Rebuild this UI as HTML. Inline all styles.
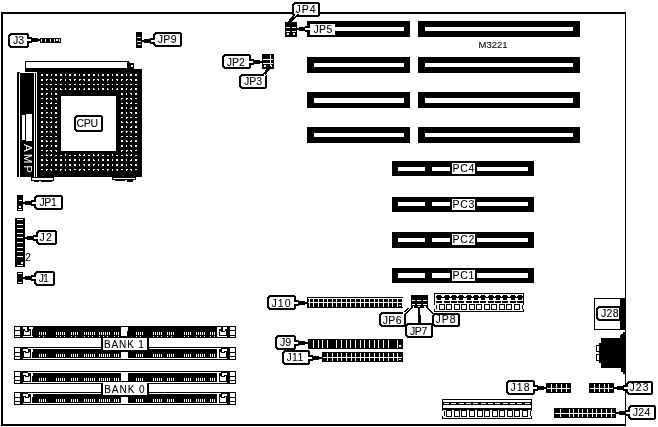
<!DOCTYPE html>
<html><head><meta charset="utf-8"><style>
html,body{margin:0;padding:0;background:#fff;}
body{width:658px;height:427px;overflow:hidden;}
svg{display:block;filter:grayscale(1);font-family:"Liberation Sans",sans-serif;}
</style></head><body>
<svg width="658" height="427" viewBox="0 0 658 427" shape-rendering="crispEdges">
<rect x="1" y="12" width="625" height="2" fill="#000"/>
<rect x="1" y="12" width="2" height="414" fill="#000"/>
<rect x="625" y="12" width="1" height="414" fill="#000"/>
<rect x="1" y="424" width="625" height="2" fill="#000"/>
<rect x="40" y="38" width="21" height="5" fill="#000"/>
<rect x="41" y="39" width="1" height="3" fill="#fff"/>
<rect x="45" y="39" width="1" height="3" fill="#fff"/>
<rect x="50" y="39" width="1" height="3" fill="#fff"/>
<rect x="54" y="39" width="1" height="3" fill="#fff"/>
<rect x="59" y="39" width="1" height="3" fill="#fff"/>
<rect x="56" y="39" width="2" height="2" fill="#fff"/>
<polygon points="10,33 27,33 29,35 29,46 27,48 10,48 8,46 8,35" fill="#000"/>
<polygon points="11,35 26,35 27,36 27,45 26,46 11,46 10,45 10,36" fill="#fff"/>
<text x="18.5" y="44.0" font-size="10.5" fill="#000" stroke="#000" stroke-width="0.08" text-anchor="middle" >J3</text>
<rect x="28" y="37" width="4" height="6" fill="#000"/>
<rect x="32" y="38" width="6" height="4" fill="#000"/>
<rect x="38" y="39" width="2" height="2" fill="#000"/>
<rect x="26" y="39" width="5" height="2" fill="#fff"/>
<rect x="136" y="32" width="6" height="16" fill="#000"/>
<rect x="137" y="37" width="4" height="1" fill="#fff"/>
<rect x="137" y="41" width="4" height="1" fill="#fff"/>
<rect x="138" y="44" width="3" height="1" fill="#fff"/>
<polygon points="155,32 180,32 182,34 182,45 180,47 155,47 153,45 153,34" fill="#000"/>
<polygon points="156,34 179,34 180,35 180,44 179,45 156,45 155,44 155,35" fill="#fff"/>
<text x="167.28" y="43.0" font-size="10.5" fill="#000" stroke="#000" stroke-width="0.08" text-anchor="middle" letter-spacing="0.35">JP9</text>
<rect x="150" y="38" width="4" height="6" fill="#000"/>
<rect x="144" y="39" width="6" height="4" fill="#000"/>
<rect x="142" y="40" width="2" height="2" fill="#000"/>
<rect x="151" y="40" width="5" height="2" fill="#fff"/>
<rect x="25" y="61" width="104" height="7" fill="#000"/>
<rect x="26" y="62" width="101" height="6" fill="#fff"/>
<rect x="129" y="62" width="1" height="1" fill="#000"/>
<rect x="129" y="63" width="5" height="6" fill="#000"/>
<rect x="131" y="65" width="2" height="2" fill="#fff"/>
<rect x="25" y="68" width="109" height="5" fill="#000"/>
<rect x="134" y="69" width="8" height="4" fill="#000"/>
<rect x="37" y="69" width="105" height="108" fill="#000"/>
<rect x="17" y="72" width="20" height="105" fill="#000"/>
<rect x="19" y="73" width="1" height="104" fill="#fff"/>
<rect x="34" y="73" width="1" height="104" fill="#fff"/>
<rect x="36" y="73" width="1" height="104" fill="#fff"/>
<rect x="20" y="72" width="17" height="1" fill="#fff"/>
<rect x="22" y="115" width="3" height="25" fill="#fff"/>
<rect x="26" y="114" width="6" height="27" fill="#fff"/>
<text transform="translate(23.5,144) rotate(90)" font-size="11.5" fill="#fff" letter-spacing="2.0">AMP</text>
<rect x="41" y="74" width="2" height="1" fill="#fff"/>
<rect x="41" y="75" width="2" height="1" fill="#fff"/>
<rect x="46" y="74" width="2" height="1" fill="#fff"/>
<rect x="46" y="75" width="2" height="1" fill="#fff"/>
<rect x="51" y="74" width="1" height="1" fill="#fff"/>
<rect x="51" y="75" width="1" height="1" fill="#fff"/>
<rect x="55" y="74" width="2" height="1" fill="#fff"/>
<rect x="55" y="75" width="2" height="1" fill="#fff"/>
<rect x="60" y="74" width="2" height="1" fill="#fff"/>
<rect x="60" y="75" width="2" height="1" fill="#fff"/>
<rect x="65" y="74" width="1" height="1" fill="#fff"/>
<rect x="65" y="75" width="1" height="1" fill="#fff"/>
<rect x="69" y="74" width="2" height="1" fill="#fff"/>
<rect x="69" y="75" width="2" height="1" fill="#fff"/>
<rect x="74" y="74" width="2" height="1" fill="#fff"/>
<rect x="74" y="75" width="2" height="1" fill="#fff"/>
<rect x="79" y="74" width="1" height="1" fill="#fff"/>
<rect x="79" y="75" width="1" height="1" fill="#fff"/>
<rect x="83" y="74" width="2" height="1" fill="#fff"/>
<rect x="83" y="75" width="2" height="1" fill="#fff"/>
<rect x="88" y="74" width="2" height="1" fill="#fff"/>
<rect x="88" y="75" width="2" height="1" fill="#fff"/>
<rect x="93" y="74" width="2" height="1" fill="#fff"/>
<rect x="93" y="75" width="2" height="1" fill="#fff"/>
<rect x="98" y="74" width="1" height="1" fill="#fff"/>
<rect x="98" y="75" width="1" height="1" fill="#fff"/>
<rect x="102" y="74" width="2" height="1" fill="#fff"/>
<rect x="102" y="75" width="2" height="1" fill="#fff"/>
<rect x="107" y="74" width="2" height="1" fill="#fff"/>
<rect x="107" y="75" width="2" height="1" fill="#fff"/>
<rect x="112" y="74" width="1" height="1" fill="#fff"/>
<rect x="112" y="75" width="1" height="1" fill="#fff"/>
<rect x="116" y="74" width="2" height="1" fill="#fff"/>
<rect x="116" y="75" width="2" height="1" fill="#fff"/>
<rect x="121" y="74" width="2" height="1" fill="#fff"/>
<rect x="121" y="75" width="2" height="1" fill="#fff"/>
<rect x="126" y="74" width="1" height="1" fill="#fff"/>
<rect x="126" y="75" width="1" height="1" fill="#fff"/>
<rect x="130" y="74" width="2" height="1" fill="#fff"/>
<rect x="130" y="75" width="2" height="1" fill="#fff"/>
<rect x="135" y="74" width="2" height="1" fill="#fff"/>
<rect x="135" y="75" width="2" height="1" fill="#fff"/>
<rect x="41" y="79" width="2" height="1" fill="#fff"/>
<rect x="41" y="80" width="2" height="1" fill="#fff"/>
<rect x="46" y="79" width="2" height="1" fill="#fff"/>
<rect x="46" y="80" width="1" height="1" fill="#fff"/>
<rect x="50" y="79" width="2" height="1" fill="#fff"/>
<rect x="51" y="80" width="1" height="1" fill="#fff"/>
<rect x="55" y="79" width="2" height="1" fill="#fff"/>
<rect x="56" y="80" width="1" height="1" fill="#fff"/>
<rect x="60" y="79" width="2" height="1" fill="#fff"/>
<rect x="60" y="80" width="1" height="1" fill="#fff"/>
<rect x="65" y="79" width="1" height="1" fill="#fff"/>
<rect x="65" y="80" width="1" height="1" fill="#fff"/>
<rect x="69" y="79" width="2" height="1" fill="#fff"/>
<rect x="70" y="80" width="1" height="1" fill="#fff"/>
<rect x="74" y="79" width="2" height="1" fill="#fff"/>
<rect x="74" y="80" width="1" height="1" fill="#fff"/>
<rect x="79" y="79" width="2" height="1" fill="#fff"/>
<rect x="79" y="80" width="1" height="1" fill="#fff"/>
<rect x="83" y="79" width="2" height="1" fill="#fff"/>
<rect x="84" y="80" width="1" height="1" fill="#fff"/>
<rect x="88" y="79" width="2" height="1" fill="#fff"/>
<rect x="88" y="80" width="2" height="1" fill="#fff"/>
<rect x="93" y="79" width="2" height="1" fill="#fff"/>
<rect x="93" y="80" width="1" height="1" fill="#fff"/>
<rect x="97" y="79" width="2" height="1" fill="#fff"/>
<rect x="98" y="80" width="1" height="1" fill="#fff"/>
<rect x="102" y="79" width="2" height="1" fill="#fff"/>
<rect x="103" y="80" width="1" height="1" fill="#fff"/>
<rect x="107" y="79" width="2" height="1" fill="#fff"/>
<rect x="107" y="80" width="1" height="1" fill="#fff"/>
<rect x="112" y="79" width="1" height="1" fill="#fff"/>
<rect x="112" y="80" width="1" height="1" fill="#fff"/>
<rect x="116" y="79" width="2" height="1" fill="#fff"/>
<rect x="117" y="80" width="1" height="1" fill="#fff"/>
<rect x="121" y="79" width="2" height="1" fill="#fff"/>
<rect x="121" y="80" width="1" height="1" fill="#fff"/>
<rect x="126" y="79" width="2" height="1" fill="#fff"/>
<rect x="126" y="80" width="1" height="1" fill="#fff"/>
<rect x="130" y="79" width="2" height="1" fill="#fff"/>
<rect x="131" y="80" width="1" height="1" fill="#fff"/>
<rect x="135" y="79" width="2" height="1" fill="#fff"/>
<rect x="135" y="80" width="2" height="1" fill="#fff"/>
<rect x="41" y="84" width="2" height="1" fill="#fff"/>
<rect x="46" y="84" width="2" height="1" fill="#fff"/>
<rect x="50" y="84" width="2" height="1" fill="#fff"/>
<rect x="55" y="84" width="2" height="1" fill="#fff"/>
<rect x="60" y="84" width="2" height="1" fill="#fff"/>
<rect x="65" y="84" width="1" height="1" fill="#fff"/>
<rect x="69" y="84" width="2" height="1" fill="#fff"/>
<rect x="74" y="84" width="2" height="1" fill="#fff"/>
<rect x="79" y="84" width="2" height="1" fill="#fff"/>
<rect x="83" y="84" width="2" height="1" fill="#fff"/>
<rect x="88" y="84" width="2" height="1" fill="#fff"/>
<rect x="93" y="84" width="2" height="1" fill="#fff"/>
<rect x="97" y="84" width="2" height="1" fill="#fff"/>
<rect x="102" y="84" width="2" height="1" fill="#fff"/>
<rect x="107" y="84" width="2" height="1" fill="#fff"/>
<rect x="112" y="84" width="1" height="1" fill="#fff"/>
<rect x="116" y="84" width="2" height="1" fill="#fff"/>
<rect x="121" y="84" width="2" height="1" fill="#fff"/>
<rect x="126" y="84" width="2" height="1" fill="#fff"/>
<rect x="130" y="84" width="2" height="1" fill="#fff"/>
<rect x="135" y="84" width="2" height="1" fill="#fff"/>
<rect x="41" y="88" width="2" height="1" fill="#fff"/>
<rect x="41" y="89" width="2" height="1" fill="#fff"/>
<rect x="46" y="88" width="1" height="1" fill="#fff"/>
<rect x="46" y="89" width="2" height="1" fill="#fff"/>
<rect x="51" y="88" width="1" height="1" fill="#fff"/>
<rect x="51" y="89" width="1" height="1" fill="#fff"/>
<rect x="55" y="88" width="2" height="1" fill="#fff"/>
<rect x="55" y="89" width="2" height="1" fill="#fff"/>
<rect x="60" y="88" width="1" height="1" fill="#fff"/>
<rect x="60" y="89" width="2" height="1" fill="#fff"/>
<rect x="65" y="88" width="1" height="1" fill="#fff"/>
<rect x="65" y="89" width="1" height="1" fill="#fff"/>
<rect x="70" y="88" width="1" height="1" fill="#fff"/>
<rect x="69" y="89" width="2" height="1" fill="#fff"/>
<rect x="74" y="88" width="2" height="1" fill="#fff"/>
<rect x="74" y="89" width="2" height="1" fill="#fff"/>
<rect x="79" y="88" width="1" height="1" fill="#fff"/>
<rect x="79" y="89" width="1" height="1" fill="#fff"/>
<rect x="84" y="88" width="1" height="1" fill="#fff"/>
<rect x="83" y="89" width="2" height="1" fill="#fff"/>
<rect x="88" y="88" width="2" height="1" fill="#fff"/>
<rect x="88" y="89" width="2" height="1" fill="#fff"/>
<rect x="93" y="88" width="1" height="1" fill="#fff"/>
<rect x="93" y="89" width="2" height="1" fill="#fff"/>
<rect x="98" y="88" width="1" height="1" fill="#fff"/>
<rect x="98" y="89" width="1" height="1" fill="#fff"/>
<rect x="102" y="88" width="2" height="1" fill="#fff"/>
<rect x="102" y="89" width="2" height="1" fill="#fff"/>
<rect x="107" y="88" width="1" height="1" fill="#fff"/>
<rect x="107" y="89" width="2" height="1" fill="#fff"/>
<rect x="112" y="88" width="1" height="1" fill="#fff"/>
<rect x="112" y="89" width="1" height="1" fill="#fff"/>
<rect x="117" y="88" width="1" height="1" fill="#fff"/>
<rect x="116" y="89" width="2" height="1" fill="#fff"/>
<rect x="121" y="88" width="2" height="1" fill="#fff"/>
<rect x="121" y="89" width="2" height="1" fill="#fff"/>
<rect x="126" y="88" width="1" height="1" fill="#fff"/>
<rect x="126" y="89" width="1" height="1" fill="#fff"/>
<rect x="131" y="88" width="1" height="1" fill="#fff"/>
<rect x="130" y="89" width="2" height="1" fill="#fff"/>
<rect x="135" y="88" width="2" height="1" fill="#fff"/>
<rect x="135" y="89" width="2" height="1" fill="#fff"/>
<rect x="41" y="93" width="2" height="1" fill="#fff"/>
<rect x="41" y="94" width="2" height="1" fill="#fff"/>
<rect x="46" y="93" width="2" height="1" fill="#fff"/>
<rect x="46" y="94" width="1" height="1" fill="#fff"/>
<rect x="51" y="93" width="1" height="1" fill="#fff"/>
<rect x="51" y="94" width="1" height="1" fill="#fff"/>
<rect x="55" y="93" width="2" height="1" fill="#fff"/>
<rect x="55" y="94" width="2" height="1" fill="#fff"/>
<rect x="121" y="93" width="2" height="1" fill="#fff"/>
<rect x="121" y="94" width="2" height="1" fill="#fff"/>
<rect x="126" y="93" width="1" height="1" fill="#fff"/>
<rect x="126" y="94" width="1" height="1" fill="#fff"/>
<rect x="130" y="93" width="2" height="1" fill="#fff"/>
<rect x="131" y="94" width="1" height="1" fill="#fff"/>
<rect x="135" y="93" width="2" height="1" fill="#fff"/>
<rect x="135" y="94" width="2" height="1" fill="#fff"/>
<rect x="41" y="98" width="2" height="1" fill="#fff"/>
<rect x="46" y="98" width="2" height="1" fill="#fff"/>
<rect x="46" y="99" width="1" height="1" fill="#fff"/>
<rect x="50" y="98" width="2" height="1" fill="#fff"/>
<rect x="51" y="99" width="1" height="1" fill="#fff"/>
<rect x="55" y="98" width="2" height="1" fill="#fff"/>
<rect x="56" y="99" width="1" height="1" fill="#fff"/>
<rect x="121" y="98" width="2" height="1" fill="#fff"/>
<rect x="121" y="99" width="1" height="1" fill="#fff"/>
<rect x="126" y="98" width="2" height="1" fill="#fff"/>
<rect x="126" y="99" width="1" height="1" fill="#fff"/>
<rect x="130" y="98" width="2" height="1" fill="#fff"/>
<rect x="131" y="99" width="1" height="1" fill="#fff"/>
<rect x="135" y="98" width="2" height="1" fill="#fff"/>
<rect x="41" y="103" width="2" height="1" fill="#fff"/>
<rect x="46" y="102" width="1" height="1" fill="#fff"/>
<rect x="46" y="103" width="2" height="1" fill="#fff"/>
<rect x="51" y="102" width="1" height="1" fill="#fff"/>
<rect x="50" y="103" width="2" height="1" fill="#fff"/>
<rect x="55" y="103" width="2" height="1" fill="#fff"/>
<rect x="121" y="103" width="2" height="1" fill="#fff"/>
<rect x="126" y="102" width="1" height="1" fill="#fff"/>
<rect x="126" y="103" width="2" height="1" fill="#fff"/>
<rect x="131" y="102" width="1" height="1" fill="#fff"/>
<rect x="130" y="103" width="2" height="1" fill="#fff"/>
<rect x="135" y="103" width="2" height="1" fill="#fff"/>
<rect x="41" y="107" width="2" height="1" fill="#fff"/>
<rect x="41" y="108" width="2" height="1" fill="#fff"/>
<rect x="46" y="107" width="1" height="1" fill="#fff"/>
<rect x="46" y="108" width="2" height="1" fill="#fff"/>
<rect x="51" y="107" width="1" height="1" fill="#fff"/>
<rect x="51" y="108" width="1" height="1" fill="#fff"/>
<rect x="55" y="107" width="2" height="1" fill="#fff"/>
<rect x="55" y="108" width="2" height="1" fill="#fff"/>
<rect x="121" y="107" width="2" height="1" fill="#fff"/>
<rect x="121" y="108" width="2" height="1" fill="#fff"/>
<rect x="126" y="107" width="1" height="1" fill="#fff"/>
<rect x="126" y="108" width="1" height="1" fill="#fff"/>
<rect x="131" y="107" width="1" height="1" fill="#fff"/>
<rect x="130" y="108" width="2" height="1" fill="#fff"/>
<rect x="135" y="107" width="2" height="1" fill="#fff"/>
<rect x="135" y="108" width="2" height="1" fill="#fff"/>
<rect x="41" y="112" width="2" height="1" fill="#fff"/>
<rect x="41" y="113" width="2" height="1" fill="#fff"/>
<rect x="46" y="112" width="2" height="1" fill="#fff"/>
<rect x="46" y="113" width="1" height="1" fill="#fff"/>
<rect x="51" y="112" width="1" height="1" fill="#fff"/>
<rect x="51" y="113" width="1" height="1" fill="#fff"/>
<rect x="55" y="112" width="2" height="1" fill="#fff"/>
<rect x="55" y="113" width="2" height="1" fill="#fff"/>
<rect x="121" y="112" width="2" height="1" fill="#fff"/>
<rect x="121" y="113" width="2" height="1" fill="#fff"/>
<rect x="126" y="112" width="1" height="1" fill="#fff"/>
<rect x="126" y="113" width="1" height="1" fill="#fff"/>
<rect x="130" y="112" width="2" height="1" fill="#fff"/>
<rect x="131" y="113" width="1" height="1" fill="#fff"/>
<rect x="135" y="112" width="2" height="1" fill="#fff"/>
<rect x="135" y="113" width="2" height="1" fill="#fff"/>
<rect x="41" y="117" width="2" height="1" fill="#fff"/>
<rect x="46" y="117" width="2" height="1" fill="#fff"/>
<rect x="50" y="117" width="2" height="1" fill="#fff"/>
<rect x="51" y="118" width="1" height="1" fill="#fff"/>
<rect x="55" y="117" width="2" height="1" fill="#fff"/>
<rect x="121" y="117" width="2" height="1" fill="#fff"/>
<rect x="126" y="117" width="2" height="1" fill="#fff"/>
<rect x="126" y="118" width="1" height="1" fill="#fff"/>
<rect x="130" y="117" width="2" height="1" fill="#fff"/>
<rect x="135" y="117" width="2" height="1" fill="#fff"/>
<rect x="41" y="121" width="2" height="1" fill="#fff"/>
<rect x="41" y="122" width="2" height="1" fill="#fff"/>
<rect x="46" y="121" width="1" height="1" fill="#fff"/>
<rect x="46" y="122" width="2" height="1" fill="#fff"/>
<rect x="51" y="121" width="1" height="1" fill="#fff"/>
<rect x="50" y="122" width="2" height="1" fill="#fff"/>
<rect x="56" y="121" width="1" height="1" fill="#fff"/>
<rect x="55" y="122" width="2" height="1" fill="#fff"/>
<rect x="121" y="121" width="1" height="1" fill="#fff"/>
<rect x="121" y="122" width="2" height="1" fill="#fff"/>
<rect x="126" y="121" width="1" height="1" fill="#fff"/>
<rect x="126" y="122" width="2" height="1" fill="#fff"/>
<rect x="131" y="121" width="1" height="1" fill="#fff"/>
<rect x="130" y="122" width="2" height="1" fill="#fff"/>
<rect x="135" y="121" width="2" height="1" fill="#fff"/>
<rect x="135" y="122" width="2" height="1" fill="#fff"/>
<rect x="41" y="126" width="2" height="1" fill="#fff"/>
<rect x="41" y="127" width="2" height="1" fill="#fff"/>
<rect x="46" y="126" width="1" height="1" fill="#fff"/>
<rect x="46" y="127" width="2" height="1" fill="#fff"/>
<rect x="51" y="126" width="1" height="1" fill="#fff"/>
<rect x="51" y="127" width="1" height="1" fill="#fff"/>
<rect x="55" y="126" width="2" height="1" fill="#fff"/>
<rect x="55" y="127" width="2" height="1" fill="#fff"/>
<rect x="121" y="126" width="2" height="1" fill="#fff"/>
<rect x="121" y="127" width="2" height="1" fill="#fff"/>
<rect x="126" y="126" width="1" height="1" fill="#fff"/>
<rect x="126" y="127" width="1" height="1" fill="#fff"/>
<rect x="131" y="126" width="1" height="1" fill="#fff"/>
<rect x="130" y="127" width="2" height="1" fill="#fff"/>
<rect x="135" y="126" width="2" height="1" fill="#fff"/>
<rect x="135" y="127" width="2" height="1" fill="#fff"/>
<rect x="41" y="131" width="2" height="1" fill="#fff"/>
<rect x="41" y="132" width="2" height="1" fill="#fff"/>
<rect x="46" y="131" width="2" height="1" fill="#fff"/>
<rect x="46" y="132" width="1" height="1" fill="#fff"/>
<rect x="50" y="131" width="2" height="1" fill="#fff"/>
<rect x="51" y="132" width="1" height="1" fill="#fff"/>
<rect x="55" y="131" width="2" height="1" fill="#fff"/>
<rect x="56" y="132" width="1" height="1" fill="#fff"/>
<rect x="121" y="131" width="2" height="1" fill="#fff"/>
<rect x="121" y="132" width="1" height="1" fill="#fff"/>
<rect x="126" y="131" width="2" height="1" fill="#fff"/>
<rect x="126" y="132" width="1" height="1" fill="#fff"/>
<rect x="130" y="131" width="2" height="1" fill="#fff"/>
<rect x="131" y="132" width="1" height="1" fill="#fff"/>
<rect x="135" y="131" width="2" height="1" fill="#fff"/>
<rect x="135" y="132" width="2" height="1" fill="#fff"/>
<rect x="41" y="136" width="2" height="1" fill="#fff"/>
<rect x="46" y="136" width="2" height="1" fill="#fff"/>
<rect x="50" y="136" width="2" height="1" fill="#fff"/>
<rect x="55" y="136" width="2" height="1" fill="#fff"/>
<rect x="121" y="136" width="2" height="1" fill="#fff"/>
<rect x="126" y="136" width="2" height="1" fill="#fff"/>
<rect x="130" y="136" width="2" height="1" fill="#fff"/>
<rect x="135" y="136" width="2" height="1" fill="#fff"/>
<rect x="41" y="140" width="2" height="1" fill="#fff"/>
<rect x="41" y="141" width="2" height="1" fill="#fff"/>
<rect x="46" y="140" width="1" height="1" fill="#fff"/>
<rect x="46" y="141" width="2" height="1" fill="#fff"/>
<rect x="51" y="140" width="1" height="1" fill="#fff"/>
<rect x="50" y="141" width="2" height="1" fill="#fff"/>
<rect x="55" y="140" width="2" height="1" fill="#fff"/>
<rect x="55" y="141" width="2" height="1" fill="#fff"/>
<rect x="121" y="140" width="2" height="1" fill="#fff"/>
<rect x="121" y="141" width="2" height="1" fill="#fff"/>
<rect x="126" y="140" width="1" height="1" fill="#fff"/>
<rect x="126" y="141" width="2" height="1" fill="#fff"/>
<rect x="131" y="140" width="1" height="1" fill="#fff"/>
<rect x="130" y="141" width="2" height="1" fill="#fff"/>
<rect x="135" y="140" width="2" height="1" fill="#fff"/>
<rect x="135" y="141" width="2" height="1" fill="#fff"/>
<rect x="41" y="145" width="2" height="1" fill="#fff"/>
<rect x="41" y="146" width="2" height="1" fill="#fff"/>
<rect x="46" y="145" width="2" height="1" fill="#fff"/>
<rect x="46" y="146" width="1" height="1" fill="#fff"/>
<rect x="51" y="145" width="1" height="1" fill="#fff"/>
<rect x="51" y="146" width="1" height="1" fill="#fff"/>
<rect x="55" y="145" width="2" height="1" fill="#fff"/>
<rect x="55" y="146" width="2" height="1" fill="#fff"/>
<rect x="121" y="145" width="2" height="1" fill="#fff"/>
<rect x="121" y="146" width="2" height="1" fill="#fff"/>
<rect x="126" y="145" width="1" height="1" fill="#fff"/>
<rect x="126" y="146" width="1" height="1" fill="#fff"/>
<rect x="130" y="145" width="2" height="1" fill="#fff"/>
<rect x="131" y="146" width="1" height="1" fill="#fff"/>
<rect x="135" y="145" width="2" height="1" fill="#fff"/>
<rect x="135" y="146" width="2" height="1" fill="#fff"/>
<rect x="41" y="150" width="2" height="1" fill="#fff"/>
<rect x="46" y="150" width="2" height="1" fill="#fff"/>
<rect x="46" y="151" width="1" height="1" fill="#fff"/>
<rect x="50" y="150" width="2" height="1" fill="#fff"/>
<rect x="51" y="151" width="1" height="1" fill="#fff"/>
<rect x="55" y="150" width="2" height="1" fill="#fff"/>
<rect x="56" y="151" width="1" height="1" fill="#fff"/>
<rect x="121" y="150" width="2" height="1" fill="#fff"/>
<rect x="121" y="151" width="1" height="1" fill="#fff"/>
<rect x="126" y="150" width="2" height="1" fill="#fff"/>
<rect x="126" y="151" width="1" height="1" fill="#fff"/>
<rect x="130" y="150" width="2" height="1" fill="#fff"/>
<rect x="131" y="151" width="1" height="1" fill="#fff"/>
<rect x="135" y="150" width="2" height="1" fill="#fff"/>
<rect x="41" y="155" width="2" height="1" fill="#fff"/>
<rect x="46" y="154" width="1" height="1" fill="#fff"/>
<rect x="46" y="155" width="2" height="1" fill="#fff"/>
<rect x="51" y="154" width="1" height="1" fill="#fff"/>
<rect x="50" y="155" width="2" height="1" fill="#fff"/>
<rect x="55" y="155" width="2" height="1" fill="#fff"/>
<rect x="60" y="155" width="2" height="1" fill="#fff"/>
<rect x="65" y="154" width="1" height="1" fill="#fff"/>
<rect x="65" y="155" width="1" height="1" fill="#fff"/>
<rect x="69" y="155" width="2" height="1" fill="#fff"/>
<rect x="74" y="155" width="2" height="1" fill="#fff"/>
<rect x="79" y="154" width="1" height="1" fill="#fff"/>
<rect x="79" y="155" width="2" height="1" fill="#fff"/>
<rect x="84" y="154" width="1" height="1" fill="#fff"/>
<rect x="83" y="155" width="2" height="1" fill="#fff"/>
<rect x="88" y="155" width="2" height="1" fill="#fff"/>
<rect x="93" y="154" width="1" height="1" fill="#fff"/>
<rect x="93" y="155" width="2" height="1" fill="#fff"/>
<rect x="98" y="154" width="1" height="1" fill="#fff"/>
<rect x="97" y="155" width="2" height="1" fill="#fff"/>
<rect x="102" y="155" width="2" height="1" fill="#fff"/>
<rect x="107" y="155" width="2" height="1" fill="#fff"/>
<rect x="112" y="154" width="1" height="1" fill="#fff"/>
<rect x="112" y="155" width="1" height="1" fill="#fff"/>
<rect x="116" y="155" width="2" height="1" fill="#fff"/>
<rect x="121" y="155" width="2" height="1" fill="#fff"/>
<rect x="126" y="154" width="1" height="1" fill="#fff"/>
<rect x="126" y="155" width="2" height="1" fill="#fff"/>
<rect x="131" y="154" width="1" height="1" fill="#fff"/>
<rect x="130" y="155" width="2" height="1" fill="#fff"/>
<rect x="135" y="155" width="2" height="1" fill="#fff"/>
<rect x="41" y="159" width="2" height="1" fill="#fff"/>
<rect x="41" y="160" width="2" height="1" fill="#fff"/>
<rect x="46" y="159" width="1" height="1" fill="#fff"/>
<rect x="46" y="160" width="2" height="1" fill="#fff"/>
<rect x="51" y="159" width="1" height="1" fill="#fff"/>
<rect x="51" y="160" width="1" height="1" fill="#fff"/>
<rect x="55" y="159" width="2" height="1" fill="#fff"/>
<rect x="55" y="160" width="2" height="1" fill="#fff"/>
<rect x="60" y="159" width="2" height="1" fill="#fff"/>
<rect x="60" y="160" width="2" height="1" fill="#fff"/>
<rect x="65" y="159" width="1" height="1" fill="#fff"/>
<rect x="65" y="160" width="1" height="1" fill="#fff"/>
<rect x="69" y="159" width="2" height="1" fill="#fff"/>
<rect x="69" y="160" width="2" height="1" fill="#fff"/>
<rect x="74" y="159" width="2" height="1" fill="#fff"/>
<rect x="74" y="160" width="2" height="1" fill="#fff"/>
<rect x="79" y="159" width="1" height="1" fill="#fff"/>
<rect x="79" y="160" width="1" height="1" fill="#fff"/>
<rect x="84" y="159" width="1" height="1" fill="#fff"/>
<rect x="83" y="160" width="2" height="1" fill="#fff"/>
<rect x="88" y="159" width="2" height="1" fill="#fff"/>
<rect x="88" y="160" width="2" height="1" fill="#fff"/>
<rect x="93" y="159" width="1" height="1" fill="#fff"/>
<rect x="93" y="160" width="2" height="1" fill="#fff"/>
<rect x="98" y="159" width="1" height="1" fill="#fff"/>
<rect x="98" y="160" width="1" height="1" fill="#fff"/>
<rect x="102" y="159" width="2" height="1" fill="#fff"/>
<rect x="102" y="160" width="2" height="1" fill="#fff"/>
<rect x="107" y="159" width="2" height="1" fill="#fff"/>
<rect x="107" y="160" width="2" height="1" fill="#fff"/>
<rect x="112" y="159" width="1" height="1" fill="#fff"/>
<rect x="112" y="160" width="1" height="1" fill="#fff"/>
<rect x="116" y="159" width="2" height="1" fill="#fff"/>
<rect x="116" y="160" width="2" height="1" fill="#fff"/>
<rect x="121" y="159" width="2" height="1" fill="#fff"/>
<rect x="121" y="160" width="2" height="1" fill="#fff"/>
<rect x="126" y="159" width="1" height="1" fill="#fff"/>
<rect x="126" y="160" width="1" height="1" fill="#fff"/>
<rect x="131" y="159" width="1" height="1" fill="#fff"/>
<rect x="130" y="160" width="2" height="1" fill="#fff"/>
<rect x="135" y="159" width="2" height="1" fill="#fff"/>
<rect x="135" y="160" width="2" height="1" fill="#fff"/>
<rect x="41" y="164" width="2" height="1" fill="#fff"/>
<rect x="41" y="165" width="2" height="1" fill="#fff"/>
<rect x="46" y="164" width="2" height="1" fill="#fff"/>
<rect x="46" y="165" width="1" height="1" fill="#fff"/>
<rect x="51" y="164" width="1" height="1" fill="#fff"/>
<rect x="51" y="165" width="1" height="1" fill="#fff"/>
<rect x="55" y="164" width="2" height="1" fill="#fff"/>
<rect x="55" y="165" width="2" height="1" fill="#fff"/>
<rect x="60" y="164" width="2" height="1" fill="#fff"/>
<rect x="60" y="165" width="2" height="1" fill="#fff"/>
<rect x="65" y="164" width="1" height="1" fill="#fff"/>
<rect x="65" y="165" width="1" height="1" fill="#fff"/>
<rect x="69" y="164" width="2" height="1" fill="#fff"/>
<rect x="69" y="165" width="2" height="1" fill="#fff"/>
<rect x="74" y="164" width="2" height="1" fill="#fff"/>
<rect x="74" y="165" width="2" height="1" fill="#fff"/>
<rect x="79" y="164" width="1" height="1" fill="#fff"/>
<rect x="79" y="165" width="1" height="1" fill="#fff"/>
<rect x="83" y="164" width="2" height="1" fill="#fff"/>
<rect x="84" y="165" width="1" height="1" fill="#fff"/>
<rect x="88" y="164" width="2" height="1" fill="#fff"/>
<rect x="88" y="165" width="2" height="1" fill="#fff"/>
<rect x="93" y="164" width="2" height="1" fill="#fff"/>
<rect x="93" y="165" width="1" height="1" fill="#fff"/>
<rect x="98" y="164" width="1" height="1" fill="#fff"/>
<rect x="98" y="165" width="1" height="1" fill="#fff"/>
<rect x="102" y="164" width="2" height="1" fill="#fff"/>
<rect x="102" y="165" width="2" height="1" fill="#fff"/>
<rect x="107" y="164" width="2" height="1" fill="#fff"/>
<rect x="107" y="165" width="2" height="1" fill="#fff"/>
<rect x="112" y="164" width="1" height="1" fill="#fff"/>
<rect x="112" y="165" width="1" height="1" fill="#fff"/>
<rect x="116" y="164" width="2" height="1" fill="#fff"/>
<rect x="116" y="165" width="2" height="1" fill="#fff"/>
<rect x="121" y="164" width="2" height="1" fill="#fff"/>
<rect x="121" y="165" width="2" height="1" fill="#fff"/>
<rect x="126" y="164" width="1" height="1" fill="#fff"/>
<rect x="126" y="165" width="1" height="1" fill="#fff"/>
<rect x="130" y="164" width="2" height="1" fill="#fff"/>
<rect x="131" y="165" width="1" height="1" fill="#fff"/>
<rect x="135" y="164" width="2" height="1" fill="#fff"/>
<rect x="135" y="165" width="2" height="1" fill="#fff"/>
<rect x="41" y="169" width="2" height="1" fill="#fff"/>
<rect x="46" y="169" width="2" height="1" fill="#fff"/>
<rect x="46" y="170" width="1" height="1" fill="#fff"/>
<rect x="50" y="169" width="2" height="1" fill="#fff"/>
<rect x="51" y="170" width="1" height="1" fill="#fff"/>
<rect x="55" y="169" width="2" height="1" fill="#fff"/>
<rect x="60" y="169" width="2" height="1" fill="#fff"/>
<rect x="60" y="170" width="1" height="1" fill="#fff"/>
<rect x="65" y="169" width="1" height="1" fill="#fff"/>
<rect x="65" y="170" width="1" height="1" fill="#fff"/>
<rect x="69" y="169" width="2" height="1" fill="#fff"/>
<rect x="70" y="170" width="1" height="1" fill="#fff"/>
<rect x="74" y="169" width="2" height="1" fill="#fff"/>
<rect x="79" y="169" width="2" height="1" fill="#fff"/>
<rect x="79" y="170" width="1" height="1" fill="#fff"/>
<rect x="83" y="169" width="2" height="1" fill="#fff"/>
<rect x="84" y="170" width="1" height="1" fill="#fff"/>
<rect x="88" y="169" width="2" height="1" fill="#fff"/>
<rect x="93" y="169" width="2" height="1" fill="#fff"/>
<rect x="93" y="170" width="1" height="1" fill="#fff"/>
<rect x="97" y="169" width="2" height="1" fill="#fff"/>
<rect x="98" y="170" width="1" height="1" fill="#fff"/>
<rect x="102" y="169" width="2" height="1" fill="#fff"/>
<rect x="107" y="169" width="2" height="1" fill="#fff"/>
<rect x="107" y="170" width="1" height="1" fill="#fff"/>
<rect x="112" y="169" width="1" height="1" fill="#fff"/>
<rect x="112" y="170" width="1" height="1" fill="#fff"/>
<rect x="116" y="169" width="2" height="1" fill="#fff"/>
<rect x="117" y="170" width="1" height="1" fill="#fff"/>
<rect x="121" y="169" width="2" height="1" fill="#fff"/>
<rect x="126" y="169" width="2" height="1" fill="#fff"/>
<rect x="126" y="170" width="1" height="1" fill="#fff"/>
<rect x="130" y="169" width="2" height="1" fill="#fff"/>
<rect x="131" y="170" width="1" height="1" fill="#fff"/>
<rect x="135" y="169" width="2" height="1" fill="#fff"/>
<rect x="61" y="96" width="55" height="55" fill="#fff"/>
<polygon points="76,115 101,115 103,117 103,130 101,132 76,132 74,130 74,117" fill="#000"/>
<polygon points="77,117 100,117 101,118 101,129 100,130 77,130 76,129 76,118" fill="#fff"/>
<text x="87.12" y="127.2" font-size="10.5" fill="#000" stroke="#000" stroke-width="0.08" text-anchor="middle" letter-spacing="-0.35">CPU</text>
<rect x="31" y="177" width="23" height="4" fill="#000"/>
<rect x="32" y="178" width="21" height="2" fill="#fff"/>
<rect x="34" y="181" width="5" height="1" fill="#000"/>
<rect x="41" y="181" width="11" height="1" fill="#000"/>
<rect x="112" y="177" width="24" height="3" fill="#000"/>
<rect x="113" y="178" width="22" height="1" fill="#fff"/>
<rect x="115" y="180" width="10" height="1" fill="#000"/>
<rect x="127" y="180" width="6" height="2" fill="#000"/>
<rect x="17" y="195" width="6" height="16" fill="#000"/>
<rect x="19" y="200" width="3" height="1" fill="#fff"/>
<rect x="19" y="206" width="2" height="2" fill="#fff"/>
<rect x="18" y="209" width="4" height="1" fill="#fff"/>
<polygon points="36,195 61,195 63,197 63,208 61,210 36,210 34,208 34,197" fill="#000"/>
<polygon points="37,197 60,197 61,198 61,207 60,208 37,208 36,207 36,198" fill="#fff"/>
<text x="47.93" y="206.0" font-size="10.5" fill="#000" stroke="#000" stroke-width="0.08" text-anchor="middle" letter-spacing="-0.35">JP1</text>
<rect x="31" y="200" width="4" height="6" fill="#000"/>
<rect x="25" y="201" width="6" height="4" fill="#000"/>
<rect x="23" y="202" width="2" height="2" fill="#000"/>
<rect x="32" y="202" width="5" height="2" fill="#fff"/>
<rect x="15" y="218" width="10" height="49" fill="#000"/>
<rect x="17" y="219" width="6" height="1" fill="#fff"/>
<rect x="17" y="224" width="6" height="1" fill="#fff"/>
<rect x="17" y="228" width="6" height="1" fill="#fff"/>
<rect x="17" y="233" width="6" height="1" fill="#fff"/>
<rect x="17" y="237" width="6" height="1" fill="#fff"/>
<rect x="17" y="242" width="6" height="1" fill="#fff"/>
<rect x="17" y="247" width="6" height="1" fill="#fff"/>
<rect x="17" y="251" width="6" height="1" fill="#fff"/>
<rect x="17" y="256" width="6" height="1" fill="#fff"/>
<rect x="17" y="265" width="6" height="1" fill="#fff"/>
<rect x="21" y="262" width="2" height="2" fill="#fff"/>
<text x="27.9" y="261.0" font-size="10.5" fill="#000" stroke="#000" stroke-width="0.08" text-anchor="middle" >2</text>
<polygon points="38,230 55,230 57,232 57,243 55,245 38,245 36,243 36,232" fill="#000"/>
<polygon points="39,232 54,232 55,233 55,242 54,243 39,243 38,242 38,233" fill="#fff"/>
<text x="46.4" y="241.0" font-size="10.5" fill="#000" stroke="#000" stroke-width="0.08" text-anchor="middle" letter-spacing="1.40">J2</text>
<rect x="33" y="235" width="4" height="6" fill="#000"/>
<rect x="27" y="236" width="6" height="4" fill="#000"/>
<rect x="25" y="237" width="2" height="2" fill="#000"/>
<rect x="34" y="237" width="5" height="2" fill="#fff"/>
<rect x="17" y="272" width="6" height="12" fill="#000"/>
<rect x="18" y="273" width="4" height="1" fill="#fff"/>
<rect x="18" y="282" width="4" height="1" fill="#fff"/>
<polygon points="36,271 53,271 55,273 55,284 53,286 36,286 34,284 34,273" fill="#000"/>
<polygon points="37,273 52,273 53,274 53,283 52,284 37,284 36,283 36,274" fill="#fff"/>
<text x="43.2" y="282.0" font-size="10.5" fill="#000" stroke="#000" stroke-width="0.08" text-anchor="middle" letter-spacing="-1.00">J1</text>
<rect x="31" y="275" width="4" height="6" fill="#000"/>
<rect x="25" y="276" width="6" height="4" fill="#000"/>
<rect x="23" y="277" width="2" height="2" fill="#000"/>
<rect x="32" y="277" width="5" height="2" fill="#fff"/>
<rect x="307" y="21" width="103" height="16" fill="#000"/>
<rect x="314" y="27" width="90" height="4" fill="#fff"/>
<rect x="418" y="21" width="162" height="16" fill="#000"/>
<rect x="425" y="27" width="148" height="4" fill="#fff"/>
<rect x="307" y="57" width="103" height="16" fill="#000"/>
<rect x="314" y="63" width="90" height="4" fill="#fff"/>
<rect x="418" y="57" width="162" height="16" fill="#000"/>
<rect x="425" y="63" width="148" height="4" fill="#fff"/>
<rect x="307" y="92" width="103" height="16" fill="#000"/>
<rect x="314" y="98" width="90" height="5" fill="#fff"/>
<rect x="418" y="92" width="162" height="16" fill="#000"/>
<rect x="425" y="98" width="148" height="5" fill="#fff"/>
<rect x="307" y="127" width="103" height="16" fill="#000"/>
<rect x="314" y="133" width="90" height="4" fill="#fff"/>
<rect x="418" y="127" width="162" height="16" fill="#000"/>
<rect x="425" y="133" width="148" height="4" fill="#fff"/>
<text x="493.0" y="48.4" font-size="9.5" fill="#000" stroke="#000" stroke-width="0.08" text-anchor="middle" >M3221</text>
<rect x="285" y="22" width="12" height="15" fill="#000"/>
<rect x="286" y="27" width="4" height="1" fill="#fff"/>
<rect x="286" y="31" width="4" height="1" fill="#fff"/>
<rect x="292" y="27" width="4" height="1" fill="#fff"/>
<rect x="292" y="31" width="4" height="1" fill="#fff"/>
<rect x="287" y="33" width="2" height="2" fill="#fff"/>
<rect x="293" y="33" width="2" height="2" fill="#fff"/>
<rect x="310" y="24" width="25" height="11" fill="#fff"/>
<text x="323.07" y="33.0" font-size="10.5" fill="#000" stroke="#000" stroke-width="0.08" text-anchor="middle" letter-spacing="0.35">JP5</text>
<rect x="297" y="28" width="2" height="2" fill="#000"/>
<rect x="299" y="27" width="6" height="4" fill="#000"/>
<rect x="305" y="26" width="2" height="6" fill="#000"/>
<rect x="305" y="28" width="5" height="2" fill="#fff"/>
<polygon points="294,2 318,2 320,4 320,15 318,17 294,17 292,15 292,4" fill="#000"/>
<polygon points="295,4 317,4 318,5 318,14 317,15 295,15 294,14 294,5" fill="#fff"/>
<text x="306.12" y="13.0" font-size="10.5" fill="#000" stroke="#000" stroke-width="0.08" text-anchor="middle" letter-spacing="1.05">JP4</text>
<polygon points="294,14 300,14 293,20 291,22 288,22 289,20" fill="#000"/>
<polygon points="296,13 299,13 294,17" fill="#fff"/>
<rect x="262" y="54" width="12" height="15" fill="#000"/>
<rect x="270" y="55" width="1" height="11" fill="#fff"/>
<rect x="263" y="59" width="10" height="1" fill="#fff"/>
<rect x="263" y="63" width="10" height="1" fill="#fff"/>
<rect x="264" y="65" width="2" height="2" fill="#fff"/>
<rect x="271" y="65" width="1" height="2" fill="#fff"/>
<polygon points="224,54 249,54 251,56 251,67 249,69 224,69 222,67 222,56" fill="#000"/>
<polygon points="225,56 248,56 249,57 249,66 248,67 225,67 224,66 224,57" fill="#fff"/>
<text x="235.7" y="65.8" font-size="10.5" fill="#000" stroke="#000" stroke-width="0.08" text-anchor="middle" >JP2</text>
<rect x="250" y="59" width="4" height="6" fill="#000"/>
<rect x="254" y="60" width="6" height="4" fill="#000"/>
<rect x="260" y="61" width="2" height="2" fill="#000"/>
<rect x="248" y="61" width="5" height="2" fill="#fff"/>
<polygon points="241,74 265,74 267,76 267,87 265,89 241,89 239,87 239,76" fill="#000"/>
<polygon points="242,76 264,76 265,77 265,86 264,87 242,87 241,86 241,77" fill="#fff"/>
<text x="253.0" y="85.0" font-size="10.5" fill="#000" stroke="#000" stroke-width="0.08" text-anchor="middle" >JP3</text>
<polygon points="262,76 266,69 270,69 265,76" fill="#000"/>
<polygon points="263,77 265,73 266,76" fill="#fff"/>
<rect x="392" y="161" width="142" height="15" fill="#000"/>
<rect x="398" y="167" width="27" height="4" fill="#fff"/>
<rect x="432" y="167" width="18" height="4" fill="#fff"/>
<rect x="477" y="167" width="51" height="4" fill="#fff"/>
<rect x="452" y="163" width="23" height="11" fill="#fff"/>
<text x="463.85" y="172.0" font-size="10.5" fill="#000" stroke="#000" stroke-width="0.08" text-anchor="middle" letter-spacing="0.70">PC4</text>
<rect x="392" y="197" width="142" height="15" fill="#000"/>
<rect x="398" y="202" width="27" height="4" fill="#fff"/>
<rect x="432" y="202" width="18" height="4" fill="#fff"/>
<rect x="477" y="202" width="51" height="4" fill="#fff"/>
<rect x="452" y="199" width="23" height="11" fill="#fff"/>
<text x="463.85" y="208.0" font-size="10.5" fill="#000" stroke="#000" stroke-width="0.08" text-anchor="middle" letter-spacing="0.70">PC3</text>
<rect x="392" y="232" width="142" height="16" fill="#000"/>
<rect x="398" y="238" width="27" height="4" fill="#fff"/>
<rect x="432" y="238" width="18" height="4" fill="#fff"/>
<rect x="477" y="238" width="51" height="4" fill="#fff"/>
<rect x="452" y="234" width="23" height="11" fill="#fff"/>
<text x="463.85" y="243.0" font-size="10.5" fill="#000" stroke="#000" stroke-width="0.08" text-anchor="middle" letter-spacing="0.70">PC2</text>
<rect x="392" y="268" width="142" height="15" fill="#000"/>
<rect x="398" y="273" width="27" height="5" fill="#fff"/>
<rect x="432" y="273" width="18" height="5" fill="#fff"/>
<rect x="477" y="273" width="51" height="5" fill="#fff"/>
<rect x="452" y="270" width="23" height="11" fill="#fff"/>
<text x="463.85" y="279.0" font-size="10.5" fill="#000" stroke="#000" stroke-width="0.08" text-anchor="middle" letter-spacing="0.70">PC1</text>
<rect x="307" y="297" width="96" height="11" fill="#000"/>
<rect x="308" y="298" width="94" height="1" fill="#fff"/>
<rect x="308" y="302" width="94" height="1" fill="#fff"/>
<rect x="309" y="298" width="1" height="9" fill="#fff"/>
<rect x="313" y="298" width="1" height="9" fill="#fff"/>
<rect x="318" y="298" width="1" height="9" fill="#fff"/>
<rect x="323" y="298" width="1" height="9" fill="#fff"/>
<rect x="327" y="298" width="1" height="9" fill="#fff"/>
<rect x="332" y="298" width="1" height="9" fill="#fff"/>
<rect x="336" y="298" width="1" height="9" fill="#fff"/>
<rect x="341" y="298" width="1" height="9" fill="#fff"/>
<rect x="346" y="298" width="1" height="9" fill="#fff"/>
<rect x="350" y="298" width="1" height="9" fill="#fff"/>
<rect x="355" y="298" width="1" height="9" fill="#fff"/>
<rect x="360" y="298" width="1" height="9" fill="#fff"/>
<rect x="364" y="298" width="1" height="9" fill="#fff"/>
<rect x="369" y="298" width="1" height="9" fill="#fff"/>
<rect x="374" y="298" width="1" height="9" fill="#fff"/>
<rect x="378" y="298" width="1" height="9" fill="#fff"/>
<rect x="383" y="298" width="1" height="9" fill="#fff"/>
<rect x="388" y="298" width="1" height="9" fill="#fff"/>
<rect x="392" y="298" width="1" height="9" fill="#fff"/>
<rect x="397" y="298" width="1" height="9" fill="#fff"/>
<rect x="402" y="298" width="1" height="9" fill="#fff"/>
<rect x="399" y="305" width="2" height="1" fill="#fff"/>
<polygon points="269,295 294,295 296,297 296,308 294,310 269,310 267,308 267,297" fill="#000"/>
<polygon points="270,297 293,297 294,298 294,307 293,308 270,308 269,307 269,298" fill="#fff"/>
<text x="281.62" y="306.8" font-size="10.5" fill="#000" stroke="#000" stroke-width="0.08" text-anchor="middle" letter-spacing="1.05">J10</text>
<rect x="295" y="300" width="4" height="6" fill="#000"/>
<rect x="299" y="301" width="6" height="4" fill="#000"/>
<rect x="305" y="302" width="2" height="2" fill="#000"/>
<rect x="293" y="302" width="5" height="2" fill="#fff"/>
<rect x="308" y="339" width="95" height="10" fill="#000"/>
<rect x="313" y="340" width="1" height="8" fill="#fff"/>
<rect x="318" y="340" width="1" height="8" fill="#fff"/>
<rect x="322" y="340" width="1" height="8" fill="#fff"/>
<rect x="327" y="340" width="1" height="8" fill="#fff"/>
<rect x="336" y="340" width="1" height="8" fill="#fff"/>
<rect x="341" y="340" width="1" height="8" fill="#fff"/>
<rect x="346" y="340" width="1" height="8" fill="#fff"/>
<rect x="350" y="340" width="1" height="8" fill="#fff"/>
<rect x="355" y="340" width="1" height="8" fill="#fff"/>
<rect x="360" y="340" width="1" height="8" fill="#fff"/>
<rect x="364" y="340" width="1" height="8" fill="#fff"/>
<rect x="369" y="340" width="1" height="8" fill="#fff"/>
<rect x="374" y="340" width="1" height="8" fill="#fff"/>
<rect x="378" y="340" width="1" height="8" fill="#fff"/>
<rect x="383" y="340" width="1" height="8" fill="#fff"/>
<rect x="388" y="340" width="1" height="8" fill="#fff"/>
<rect x="397" y="340" width="1" height="8" fill="#fff"/>
<rect x="399" y="345" width="2" height="2" fill="#fff"/>
<polygon points="277,335 294,335 296,337 296,348 294,350 277,350 275,348 275,337" fill="#000"/>
<polygon points="278,337 293,337 294,338 294,347 293,348 278,348 277,347 277,338" fill="#fff"/>
<text x="285.5" y="346.0" font-size="10.5" fill="#000" stroke="#000" stroke-width="0.08" text-anchor="middle" >J9</text>
<rect x="295" y="340" width="4" height="6" fill="#000"/>
<rect x="299" y="341" width="6" height="4" fill="#000"/>
<rect x="305" y="342" width="3" height="2" fill="#000"/>
<rect x="293" y="342" width="5" height="2" fill="#fff"/>
<rect x="322" y="352" width="81" height="10" fill="#000"/>
<rect x="323" y="357" width="79" height="1" fill="#fff"/>
<rect x="327" y="353" width="1" height="8" fill="#fff"/>
<rect x="332" y="353" width="1" height="8" fill="#fff"/>
<rect x="337" y="353" width="1" height="8" fill="#fff"/>
<rect x="341" y="353" width="1" height="8" fill="#fff"/>
<rect x="346" y="353" width="1" height="8" fill="#fff"/>
<rect x="351" y="353" width="1" height="8" fill="#fff"/>
<rect x="355" y="353" width="1" height="8" fill="#fff"/>
<rect x="360" y="353" width="1" height="8" fill="#fff"/>
<rect x="364" y="353" width="1" height="8" fill="#fff"/>
<rect x="369" y="353" width="1" height="8" fill="#fff"/>
<rect x="374" y="353" width="1" height="8" fill="#fff"/>
<rect x="379" y="353" width="1" height="8" fill="#fff"/>
<rect x="383" y="353" width="1" height="8" fill="#fff"/>
<rect x="388" y="353" width="1" height="8" fill="#fff"/>
<rect x="393" y="353" width="1" height="8" fill="#fff"/>
<rect x="397" y="353" width="1" height="8" fill="#fff"/>
<rect x="399" y="359" width="2" height="1" fill="#fff"/>
<polygon points="284,350 308,350 310,352 310,363 308,365 284,365 282,363 282,352" fill="#000"/>
<polygon points="285,352 307,352 308,353 308,362 307,363 285,363 284,362 284,353" fill="#fff"/>
<text x="294.98" y="361.0" font-size="10.5" fill="#000" stroke="#000" stroke-width="0.08" text-anchor="middle" letter-spacing="0.35">J11</text>
<rect x="309" y="355" width="4" height="6" fill="#000"/>
<rect x="313" y="356" width="6" height="4" fill="#000"/>
<rect x="319" y="357" width="3" height="2" fill="#000"/>
<rect x="307" y="357" width="5" height="2" fill="#fff"/>
<rect x="411" y="295" width="17" height="13" fill="#000"/>
<rect x="412" y="300" width="3" height="1" fill="#fff"/>
<rect x="412" y="304" width="3" height="1" fill="#fff"/>
<rect x="417" y="300" width="4" height="1" fill="#fff"/>
<rect x="417" y="304" width="4" height="1" fill="#fff"/>
<rect x="423" y="300" width="4" height="1" fill="#fff"/>
<rect x="423" y="304" width="4" height="1" fill="#fff"/>
<rect x="413" y="306" width="1" height="2" fill="#fff"/>
<rect x="418" y="306" width="2" height="2" fill="#fff"/>
<rect x="424" y="306" width="2" height="2" fill="#fff"/>
<polygon points="381,312 404,312 406,314 406,325 404,327 381,327 379,325 379,314" fill="#000"/>
<polygon points="382,314 403,314 404,315 404,324 403,325 382,325 381,324 381,315" fill="#fff"/>
<text x="392.28" y="323.8" font-size="10.5" fill="#000" stroke="#000" stroke-width="0.08" text-anchor="middle" letter-spacing="0.35">JP6</text>
<polygon points="407,323 431,323 433,325 433,336 431,338 407,338 405,336 405,325" fill="#000"/>
<polygon points="408,325 430,325 431,326 431,335 430,336 408,336 407,335 407,326" fill="#fff"/>
<text x="418.43" y="334.8" font-size="10.5" fill="#000" stroke="#000" stroke-width="0.08" text-anchor="middle" letter-spacing="-0.35">JP7</text>
<polygon points="434,313 458,313 460,315 460,325 458,327 434,327 432,325 432,315" fill="#000"/>
<polygon points="435,315 457,315 458,316 458,324 457,325 435,325 434,324 434,316" fill="#fff"/>
<text x="446.12" y="323.0" font-size="10.5" fill="#000" stroke="#000" stroke-width="0.08" text-anchor="middle" letter-spacing="1.05">JP8</text>
<polygon points="411,307 413,307 407.5,313.5 405.5,313.5" fill="#000"/>
<polygon points="407.5,307.5 409.5,307.5 404,313 402,313" fill="#000"/>
<rect x="403" y="312" width="2" height="2" fill="#fff"/>
<polygon points="426,307 428,307 434,313.5 432,313.5" fill="#000"/>
<polygon points="418,307 420,307 421,323.5 417.5,323.5" fill="#000"/>
<rect x="434" y="293" width="90" height="19" fill="#000"/>
<rect x="435" y="294" width="88" height="17" fill="#fff"/>
<rect x="436" y="297" width="86" height="1" fill="#000"/>
<rect x="436" y="295" width="6" height="3" fill="#000"/>
<rect x="436" y="295" width="1" height="1" fill="#fff"/>
<rect x="441" y="295" width="1" height="1" fill="#fff"/>
<rect x="437" y="298" width="4" height="2" fill="#000"/>
<rect x="436" y="301" width="6" height="2" fill="#000"/>
<rect x="444" y="295" width="6" height="3" fill="#000"/>
<rect x="444" y="295" width="1" height="1" fill="#fff"/>
<rect x="449" y="295" width="1" height="1" fill="#fff"/>
<rect x="445" y="298" width="4" height="2" fill="#000"/>
<rect x="444" y="301" width="6" height="2" fill="#000"/>
<rect x="451" y="295" width="6" height="3" fill="#000"/>
<rect x="451" y="295" width="1" height="1" fill="#fff"/>
<rect x="456" y="295" width="1" height="1" fill="#fff"/>
<rect x="452" y="298" width="4" height="2" fill="#000"/>
<rect x="451" y="301" width="6" height="2" fill="#000"/>
<rect x="458" y="295" width="6" height="3" fill="#000"/>
<rect x="458" y="295" width="1" height="1" fill="#fff"/>
<rect x="463" y="295" width="1" height="1" fill="#fff"/>
<rect x="459" y="298" width="4" height="2" fill="#000"/>
<rect x="458" y="301" width="6" height="2" fill="#000"/>
<rect x="466" y="295" width="6" height="3" fill="#000"/>
<rect x="466" y="295" width="1" height="1" fill="#fff"/>
<rect x="471" y="295" width="1" height="1" fill="#fff"/>
<rect x="467" y="298" width="4" height="2" fill="#000"/>
<rect x="466" y="301" width="6" height="2" fill="#000"/>
<rect x="473" y="295" width="6" height="3" fill="#000"/>
<rect x="473" y="295" width="1" height="1" fill="#fff"/>
<rect x="478" y="295" width="1" height="1" fill="#fff"/>
<rect x="474" y="298" width="4" height="2" fill="#000"/>
<rect x="473" y="301" width="6" height="2" fill="#000"/>
<rect x="480" y="295" width="6" height="3" fill="#000"/>
<rect x="480" y="295" width="1" height="1" fill="#fff"/>
<rect x="485" y="295" width="1" height="1" fill="#fff"/>
<rect x="481" y="298" width="4" height="2" fill="#000"/>
<rect x="480" y="301" width="6" height="2" fill="#000"/>
<rect x="488" y="295" width="6" height="3" fill="#000"/>
<rect x="488" y="295" width="1" height="1" fill="#fff"/>
<rect x="493" y="295" width="1" height="1" fill="#fff"/>
<rect x="489" y="298" width="4" height="2" fill="#000"/>
<rect x="488" y="301" width="6" height="2" fill="#000"/>
<rect x="495" y="295" width="6" height="3" fill="#000"/>
<rect x="495" y="295" width="1" height="1" fill="#fff"/>
<rect x="500" y="295" width="1" height="1" fill="#fff"/>
<rect x="496" y="298" width="4" height="2" fill="#000"/>
<rect x="495" y="301" width="6" height="2" fill="#000"/>
<rect x="502" y="295" width="6" height="3" fill="#000"/>
<rect x="502" y="295" width="1" height="1" fill="#fff"/>
<rect x="507" y="295" width="1" height="1" fill="#fff"/>
<rect x="503" y="298" width="4" height="2" fill="#000"/>
<rect x="502" y="301" width="6" height="2" fill="#000"/>
<rect x="510" y="295" width="6" height="3" fill="#000"/>
<rect x="510" y="295" width="1" height="1" fill="#fff"/>
<rect x="515" y="295" width="1" height="1" fill="#fff"/>
<rect x="511" y="298" width="4" height="2" fill="#000"/>
<rect x="510" y="301" width="6" height="2" fill="#000"/>
<rect x="517" y="295" width="6" height="3" fill="#000"/>
<rect x="517" y="295" width="1" height="1" fill="#fff"/>
<rect x="522" y="295" width="1" height="1" fill="#fff"/>
<rect x="518" y="298" width="4" height="2" fill="#000"/>
<rect x="517" y="301" width="6" height="2" fill="#000"/>
<rect x="439" y="304" width="6" height="6" fill="#000"/>
<rect x="440" y="305" width="4" height="4" fill="#fff"/>
<rect x="446" y="304" width="6" height="6" fill="#000"/>
<rect x="447" y="305" width="4" height="4" fill="#fff"/>
<rect x="454" y="304" width="6" height="6" fill="#000"/>
<rect x="455" y="305" width="4" height="4" fill="#fff"/>
<rect x="461" y="304" width="6" height="6" fill="#000"/>
<rect x="462" y="305" width="4" height="4" fill="#fff"/>
<rect x="469" y="304" width="6" height="6" fill="#000"/>
<rect x="470" y="305" width="4" height="4" fill="#fff"/>
<rect x="476" y="304" width="6" height="6" fill="#000"/>
<rect x="477" y="305" width="4" height="4" fill="#fff"/>
<rect x="484" y="304" width="6" height="6" fill="#000"/>
<rect x="485" y="305" width="4" height="4" fill="#fff"/>
<rect x="491" y="304" width="6" height="6" fill="#000"/>
<rect x="492" y="305" width="4" height="4" fill="#fff"/>
<rect x="499" y="304" width="6" height="6" fill="#000"/>
<rect x="500" y="305" width="4" height="4" fill="#fff"/>
<rect x="506" y="304" width="6" height="6" fill="#000"/>
<rect x="507" y="305" width="4" height="4" fill="#fff"/>
<rect x="514" y="304" width="6" height="6" fill="#000"/>
<rect x="515" y="305" width="4" height="4" fill="#fff"/>
<rect x="434" y="305" width="2" height="4" fill="#fff"/>
<rect x="436" y="305" width="1" height="4" fill="#000"/>
<rect x="523" y="305" width="1" height="4" fill="#fff"/>
<rect x="522" y="305" width="1" height="4" fill="#000"/>
<rect x="442" y="399" width="90" height="20" fill="#000"/>
<rect x="443" y="400" width="88" height="18" fill="#fff"/>
<rect x="443" y="402" width="88" height="3" fill="#000"/>
<rect x="444" y="403" width="5" height="1" fill="#fff"/>
<rect x="451" y="403" width="5" height="1" fill="#fff"/>
<rect x="459" y="403" width="5" height="1" fill="#fff"/>
<rect x="466" y="403" width="5" height="1" fill="#fff"/>
<rect x="473" y="403" width="5" height="1" fill="#fff"/>
<rect x="481" y="403" width="5" height="1" fill="#fff"/>
<rect x="488" y="403" width="5" height="1" fill="#fff"/>
<rect x="495" y="403" width="5" height="1" fill="#fff"/>
<rect x="503" y="403" width="5" height="1" fill="#fff"/>
<rect x="510" y="403" width="5" height="1" fill="#fff"/>
<rect x="517" y="403" width="5" height="1" fill="#fff"/>
<rect x="525" y="403" width="5" height="1" fill="#fff"/>
<rect x="443" y="408" width="88" height="2" fill="#000"/>
<rect x="446" y="410" width="6" height="7" fill="#000"/>
<rect x="447" y="411" width="4" height="5" fill="#fff"/>
<rect x="454" y="410" width="6" height="7" fill="#000"/>
<rect x="455" y="411" width="4" height="5" fill="#fff"/>
<rect x="461" y="410" width="6" height="7" fill="#000"/>
<rect x="462" y="411" width="4" height="5" fill="#fff"/>
<rect x="469" y="410" width="6" height="7" fill="#000"/>
<rect x="470" y="411" width="4" height="5" fill="#fff"/>
<rect x="477" y="410" width="6" height="7" fill="#000"/>
<rect x="478" y="411" width="4" height="5" fill="#fff"/>
<rect x="484" y="410" width="6" height="7" fill="#000"/>
<rect x="485" y="411" width="4" height="5" fill="#fff"/>
<rect x="492" y="410" width="6" height="7" fill="#000"/>
<rect x="493" y="411" width="4" height="5" fill="#fff"/>
<rect x="499" y="410" width="6" height="7" fill="#000"/>
<rect x="500" y="411" width="4" height="5" fill="#fff"/>
<rect x="507" y="410" width="6" height="7" fill="#000"/>
<rect x="508" y="411" width="4" height="5" fill="#fff"/>
<rect x="514" y="410" width="6" height="7" fill="#000"/>
<rect x="515" y="411" width="4" height="5" fill="#fff"/>
<rect x="522" y="410" width="6" height="7" fill="#000"/>
<rect x="523" y="411" width="4" height="5" fill="#fff"/>
<rect x="442" y="411" width="2" height="5" fill="#fff"/>
<rect x="444" y="411" width="1" height="5" fill="#000"/>
<rect x="531" y="411" width="1" height="5" fill="#fff"/>
<rect x="530" y="411" width="1" height="5" fill="#000"/>
<rect x="546" y="383" width="25" height="10" fill="#000"/>
<rect x="547" y="388" width="23" height="1" fill="#fff"/>
<rect x="551" y="384" width="1" height="8" fill="#fff"/>
<rect x="556" y="384" width="1" height="8" fill="#fff"/>
<rect x="561" y="384" width="1" height="8" fill="#fff"/>
<rect x="566" y="384" width="1" height="8" fill="#fff"/>
<polygon points="508,380 533,380 535,382 535,393 533,395 508,395 506,393 506,382" fill="#000"/>
<polygon points="509,382 532,382 533,383 533,392 532,393 509,393 508,392 508,383" fill="#fff"/>
<text x="520.62" y="391.0" font-size="10.5" fill="#000" stroke="#000" stroke-width="0.08" text-anchor="middle" letter-spacing="1.05">J18</text>
<rect x="534" y="385" width="4" height="6" fill="#000"/>
<rect x="538" y="386" width="6" height="4" fill="#000"/>
<rect x="544" y="387" width="2" height="2" fill="#000"/>
<rect x="532" y="387" width="5" height="2" fill="#fff"/>
<rect x="589" y="383" width="25" height="10" fill="#000"/>
<rect x="590" y="388" width="23" height="1" fill="#fff"/>
<rect x="594" y="384" width="1" height="8" fill="#fff"/>
<rect x="599" y="384" width="1" height="8" fill="#fff"/>
<rect x="604" y="384" width="1" height="8" fill="#fff"/>
<rect x="608" y="384" width="1" height="8" fill="#fff"/>
<polygon points="628,381 651,381 653,383 653,393 651,395 628,395 626,393 626,383" fill="#000"/>
<polygon points="629,383 650,383 651,384 651,392 650,393 629,393 628,392 628,384" fill="#fff"/>
<text x="639.62" y="391.0" font-size="10.5" fill="#000" stroke="#000" stroke-width="0.08" text-anchor="middle" letter-spacing="1.05">J23</text>
<rect x="623" y="385" width="4" height="6" fill="#000"/>
<rect x="617" y="386" width="6" height="4" fill="#000"/>
<rect x="614" y="387" width="3" height="2" fill="#000"/>
<rect x="624" y="387" width="5" height="2" fill="#fff"/>
<rect x="554" y="408" width="62" height="10" fill="#000"/>
<rect x="555" y="413" width="60" height="1" fill="#fff"/>
<rect x="560" y="409" width="1" height="8" fill="#fff"/>
<rect x="569" y="409" width="1" height="8" fill="#fff"/>
<rect x="573" y="409" width="1" height="8" fill="#fff"/>
<rect x="578" y="409" width="1" height="8" fill="#fff"/>
<rect x="582" y="409" width="1" height="8" fill="#fff"/>
<rect x="587" y="409" width="1" height="8" fill="#fff"/>
<rect x="592" y="409" width="1" height="8" fill="#fff"/>
<rect x="596" y="409" width="1" height="8" fill="#fff"/>
<rect x="601" y="409" width="1" height="8" fill="#fff"/>
<rect x="606" y="409" width="1" height="8" fill="#fff"/>
<rect x="611" y="409" width="1" height="8" fill="#fff"/>
<polygon points="630,405 654,405 656,407 656,418 654,420 630,420 628,418 628,407" fill="#000"/>
<polygon points="631,407 653,407 654,408 654,417 653,418 631,418 630,417 630,408" fill="#fff"/>
<text x="641.77" y="416.0" font-size="10.5" fill="#000" stroke="#000" stroke-width="0.08" text-anchor="middle" letter-spacing="0.35">J24</text>
<rect x="625" y="410" width="4" height="6" fill="#000"/>
<rect x="619" y="411" width="6" height="4" fill="#000"/>
<rect x="616" y="412" width="3" height="2" fill="#000"/>
<rect x="626" y="412" width="5" height="2" fill="#fff"/>
<rect x="594" y="298" width="32" height="32" fill="#000"/>
<rect x="595" y="299" width="25" height="30" fill="#fff"/>
<polygon points="598,306 619,306 621,308 621,319 619,321 598,321 596,319 596,308" fill="#000"/>
<polygon points="599,308 618,308 619,309 619,318 618,319 599,319 598,318 598,309" fill="#fff"/>
<text x="609.88" y="317.0" font-size="10.5" fill="#000" stroke="#000" stroke-width="0.08" text-anchor="middle" letter-spacing="0.35">J28</text>
<polygon points="620,330 626,330 626,374 623,374 623,372 621,372 621,368 601,368 601,363 599,363 599,343 601,343 601,338 620,338 620,335 621,335 621,334 623,334 623,332 620,332" fill="#000"/>
<rect x="620" y="330" width="5" height="2" fill="#fff"/>
<rect x="596" y="345" width="4" height="7" fill="#000"/>
<rect x="597" y="346" width="2" height="5" fill="#fff"/>
<rect x="596" y="354" width="4" height="7" fill="#000"/>
<rect x="597" y="355" width="2" height="5" fill="#fff"/>
<rect x="14" y="326" width="222" height="12" fill="#000"/>
<rect x="15" y="327" width="5" height="3" fill="#fff"/>
<rect x="230" y="327" width="5" height="3" fill="#fff"/>
<rect x="15" y="331" width="5" height="4" fill="#fff"/>
<rect x="230" y="331" width="5" height="4" fill="#fff"/>
<rect x="15" y="336" width="5" height="1" fill="#fff"/>
<rect x="230" y="336" width="5" height="1" fill="#fff"/>
<rect x="23" y="327" width="4" height="2" fill="#fff"/>
<rect x="223" y="327" width="4" height="2" fill="#fff"/>
<rect x="25" y="329" width="2" height="2" fill="#fff"/>
<rect x="223" y="329" width="2" height="2" fill="#fff"/>
<rect x="29" y="327" width="4" height="2" fill="#fff"/>
<rect x="31" y="329" width="1" height="7" fill="#fff"/>
<rect x="217" y="327" width="4" height="2" fill="#fff"/>
<rect x="217" y="329" width="2" height="7" fill="#fff"/>
<rect x="24" y="332" width="6" height="3" fill="#fff"/>
<rect x="220" y="332" width="6" height="3" fill="#fff"/>
<rect x="24" y="331" width="1" height="1" fill="#fff"/>
<rect x="225" y="331" width="1" height="1" fill="#fff"/>
<rect x="29" y="331" width="1" height="1" fill="#fff"/>
<rect x="220" y="331" width="1" height="1" fill="#fff"/>
<rect x="23" y="336" width="10" height="1" fill="#fff"/>
<rect x="217" y="336" width="10" height="1" fill="#fff"/>
<rect x="121" y="327" width="6" height="9" fill="#fff"/>
<rect x="127" y="327" width="1" height="4" fill="#fff"/>
<rect x="39" y="332" width="1" height="3" fill="#fff"/>
<rect x="39" y="336" width="1" height="1" fill="#fff"/>
<rect x="41" y="332" width="1" height="3" fill="#fff"/>
<rect x="43" y="332" width="1" height="3" fill="#fff"/>
<rect x="43" y="336" width="1" height="1" fill="#fff"/>
<rect x="45" y="332" width="1" height="3" fill="#fff"/>
<rect x="56" y="332" width="1" height="3" fill="#fff"/>
<rect x="56" y="336" width="1" height="1" fill="#fff"/>
<rect x="58" y="332" width="1" height="3" fill="#fff"/>
<rect x="60" y="332" width="1" height="3" fill="#fff"/>
<rect x="60" y="336" width="1" height="1" fill="#fff"/>
<rect x="62" y="332" width="1" height="3" fill="#fff"/>
<rect x="64" y="332" width="1" height="3" fill="#fff"/>
<rect x="64" y="336" width="1" height="1" fill="#fff"/>
<rect x="71" y="332" width="1" height="3" fill="#fff"/>
<rect x="71" y="336" width="1" height="1" fill="#fff"/>
<rect x="73" y="332" width="1" height="3" fill="#fff"/>
<rect x="75" y="332" width="1" height="3" fill="#fff"/>
<rect x="75" y="336" width="1" height="1" fill="#fff"/>
<rect x="77" y="332" width="1" height="3" fill="#fff"/>
<rect x="84" y="332" width="1" height="3" fill="#fff"/>
<rect x="84" y="336" width="1" height="1" fill="#fff"/>
<rect x="86" y="332" width="1" height="3" fill="#fff"/>
<rect x="88" y="332" width="1" height="3" fill="#fff"/>
<rect x="88" y="336" width="1" height="1" fill="#fff"/>
<rect x="90" y="332" width="1" height="3" fill="#fff"/>
<rect x="92" y="332" width="1" height="3" fill="#fff"/>
<rect x="92" y="336" width="1" height="1" fill="#fff"/>
<rect x="94" y="332" width="1" height="3" fill="#fff"/>
<rect x="99" y="332" width="1" height="3" fill="#fff"/>
<rect x="99" y="336" width="1" height="1" fill="#fff"/>
<rect x="101" y="332" width="1" height="3" fill="#fff"/>
<rect x="103" y="332" width="1" height="3" fill="#fff"/>
<rect x="103" y="336" width="1" height="1" fill="#fff"/>
<rect x="105" y="332" width="1" height="3" fill="#fff"/>
<rect x="107" y="332" width="1" height="3" fill="#fff"/>
<rect x="107" y="336" width="1" height="1" fill="#fff"/>
<rect x="109" y="332" width="1" height="3" fill="#fff"/>
<rect x="114" y="332" width="1" height="3" fill="#fff"/>
<rect x="114" y="336" width="1" height="1" fill="#fff"/>
<rect x="116" y="332" width="1" height="3" fill="#fff"/>
<rect x="118" y="332" width="1" height="3" fill="#fff"/>
<rect x="118" y="336" width="1" height="1" fill="#fff"/>
<rect x="136" y="332" width="1" height="3" fill="#fff"/>
<rect x="136" y="336" width="1" height="1" fill="#fff"/>
<rect x="138" y="332" width="1" height="3" fill="#fff"/>
<rect x="140" y="332" width="1" height="3" fill="#fff"/>
<rect x="140" y="336" width="1" height="1" fill="#fff"/>
<rect x="142" y="332" width="1" height="3" fill="#fff"/>
<rect x="153" y="332" width="1" height="3" fill="#fff"/>
<rect x="153" y="336" width="1" height="1" fill="#fff"/>
<rect x="155" y="332" width="1" height="3" fill="#fff"/>
<rect x="157" y="332" width="1" height="3" fill="#fff"/>
<rect x="157" y="336" width="1" height="1" fill="#fff"/>
<rect x="159" y="332" width="1" height="3" fill="#fff"/>
<rect x="161" y="332" width="1" height="3" fill="#fff"/>
<rect x="161" y="336" width="1" height="1" fill="#fff"/>
<rect x="167" y="332" width="1" height="3" fill="#fff"/>
<rect x="167" y="336" width="1" height="1" fill="#fff"/>
<rect x="169" y="332" width="1" height="3" fill="#fff"/>
<rect x="171" y="332" width="1" height="3" fill="#fff"/>
<rect x="171" y="336" width="1" height="1" fill="#fff"/>
<rect x="173" y="332" width="1" height="3" fill="#fff"/>
<rect x="184" y="332" width="1" height="3" fill="#fff"/>
<rect x="184" y="336" width="1" height="1" fill="#fff"/>
<rect x="186" y="332" width="1" height="3" fill="#fff"/>
<rect x="188" y="332" width="1" height="3" fill="#fff"/>
<rect x="188" y="336" width="1" height="1" fill="#fff"/>
<rect x="190" y="332" width="1" height="3" fill="#fff"/>
<rect x="196" y="332" width="1" height="3" fill="#fff"/>
<rect x="196" y="336" width="1" height="1" fill="#fff"/>
<rect x="198" y="332" width="1" height="3" fill="#fff"/>
<rect x="200" y="332" width="1" height="3" fill="#fff"/>
<rect x="200" y="336" width="1" height="1" fill="#fff"/>
<rect x="202" y="332" width="1" height="3" fill="#fff"/>
<rect x="204" y="332" width="1" height="3" fill="#fff"/>
<rect x="204" y="336" width="1" height="1" fill="#fff"/>
<rect x="210" y="332" width="1" height="3" fill="#fff"/>
<rect x="210" y="336" width="1" height="1" fill="#fff"/>
<rect x="212" y="332" width="1" height="3" fill="#fff"/>
<rect x="214" y="332" width="1" height="3" fill="#fff"/>
<rect x="214" y="336" width="1" height="1" fill="#fff"/>
<rect x="14" y="347" width="222" height="13" fill="#000"/>
<rect x="15" y="348" width="5" height="4" fill="#fff"/>
<rect x="230" y="348" width="5" height="4" fill="#fff"/>
<rect x="15" y="353" width="5" height="3" fill="#fff"/>
<rect x="230" y="353" width="5" height="3" fill="#fff"/>
<rect x="15" y="357" width="5" height="2" fill="#fff"/>
<rect x="230" y="357" width="5" height="2" fill="#fff"/>
<rect x="23" y="349" width="5" height="2" fill="#fff"/>
<rect x="222" y="349" width="5" height="2" fill="#fff"/>
<rect x="26" y="351" width="2" height="1" fill="#fff"/>
<rect x="222" y="351" width="2" height="1" fill="#fff"/>
<rect x="24" y="353" width="6" height="4" fill="#fff"/>
<rect x="220" y="353" width="6" height="4" fill="#fff"/>
<rect x="24" y="352" width="1" height="1" fill="#fff"/>
<rect x="225" y="352" width="1" height="1" fill="#fff"/>
<rect x="29" y="352" width="1" height="1" fill="#fff"/>
<rect x="220" y="352" width="1" height="1" fill="#fff"/>
<rect x="28" y="348" width="193" height="1" fill="#fff"/>
<rect x="23" y="358" width="204" height="1" fill="#fff"/>
<rect x="31" y="348" width="1" height="10" fill="#fff"/>
<rect x="32" y="348" width="1" height="4" fill="#fff"/>
<rect x="217" y="348" width="2" height="10" fill="#fff"/>
<rect x="121" y="352" width="7" height="7" fill="#fff"/>
<rect x="39" y="354" width="1" height="3" fill="#fff"/>
<rect x="41" y="354" width="1" height="3" fill="#fff"/>
<rect x="43" y="354" width="1" height="3" fill="#fff"/>
<rect x="45" y="354" width="1" height="3" fill="#fff"/>
<rect x="56" y="354" width="1" height="3" fill="#fff"/>
<rect x="58" y="354" width="1" height="3" fill="#fff"/>
<rect x="60" y="354" width="1" height="3" fill="#fff"/>
<rect x="62" y="354" width="1" height="3" fill="#fff"/>
<rect x="64" y="354" width="1" height="3" fill="#fff"/>
<rect x="71" y="354" width="1" height="3" fill="#fff"/>
<rect x="73" y="354" width="1" height="3" fill="#fff"/>
<rect x="75" y="354" width="1" height="3" fill="#fff"/>
<rect x="77" y="354" width="1" height="3" fill="#fff"/>
<rect x="84" y="354" width="1" height="3" fill="#fff"/>
<rect x="86" y="354" width="1" height="3" fill="#fff"/>
<rect x="88" y="354" width="1" height="3" fill="#fff"/>
<rect x="90" y="354" width="1" height="3" fill="#fff"/>
<rect x="92" y="354" width="1" height="3" fill="#fff"/>
<rect x="94" y="354" width="1" height="3" fill="#fff"/>
<rect x="99" y="354" width="1" height="3" fill="#fff"/>
<rect x="101" y="354" width="1" height="3" fill="#fff"/>
<rect x="103" y="354" width="1" height="3" fill="#fff"/>
<rect x="105" y="354" width="1" height="3" fill="#fff"/>
<rect x="107" y="354" width="1" height="3" fill="#fff"/>
<rect x="109" y="354" width="1" height="3" fill="#fff"/>
<rect x="114" y="354" width="1" height="3" fill="#fff"/>
<rect x="116" y="354" width="1" height="3" fill="#fff"/>
<rect x="118" y="354" width="1" height="3" fill="#fff"/>
<rect x="136" y="354" width="1" height="3" fill="#fff"/>
<rect x="138" y="354" width="1" height="3" fill="#fff"/>
<rect x="140" y="354" width="1" height="3" fill="#fff"/>
<rect x="142" y="354" width="1" height="3" fill="#fff"/>
<rect x="153" y="354" width="1" height="3" fill="#fff"/>
<rect x="155" y="354" width="1" height="3" fill="#fff"/>
<rect x="157" y="354" width="1" height="3" fill="#fff"/>
<rect x="159" y="354" width="1" height="3" fill="#fff"/>
<rect x="161" y="354" width="1" height="3" fill="#fff"/>
<rect x="167" y="354" width="1" height="3" fill="#fff"/>
<rect x="169" y="354" width="1" height="3" fill="#fff"/>
<rect x="171" y="354" width="1" height="3" fill="#fff"/>
<rect x="173" y="354" width="1" height="3" fill="#fff"/>
<rect x="184" y="354" width="1" height="3" fill="#fff"/>
<rect x="186" y="354" width="1" height="3" fill="#fff"/>
<rect x="188" y="354" width="1" height="3" fill="#fff"/>
<rect x="190" y="354" width="1" height="3" fill="#fff"/>
<rect x="196" y="354" width="1" height="3" fill="#fff"/>
<rect x="198" y="354" width="1" height="3" fill="#fff"/>
<rect x="200" y="354" width="1" height="3" fill="#fff"/>
<rect x="202" y="354" width="1" height="3" fill="#fff"/>
<rect x="204" y="354" width="1" height="3" fill="#fff"/>
<rect x="210" y="354" width="1" height="3" fill="#fff"/>
<rect x="212" y="354" width="1" height="3" fill="#fff"/>
<rect x="214" y="354" width="1" height="3" fill="#fff"/>
<rect x="14" y="371" width="222" height="13" fill="#000"/>
<rect x="15" y="372" width="5" height="4" fill="#fff"/>
<rect x="230" y="372" width="5" height="4" fill="#fff"/>
<rect x="15" y="377" width="5" height="3" fill="#fff"/>
<rect x="230" y="377" width="5" height="3" fill="#fff"/>
<rect x="15" y="381" width="5" height="2" fill="#fff"/>
<rect x="230" y="381" width="5" height="2" fill="#fff"/>
<rect x="23" y="373" width="5" height="2" fill="#fff"/>
<rect x="222" y="373" width="5" height="2" fill="#fff"/>
<rect x="26" y="375" width="2" height="1" fill="#fff"/>
<rect x="222" y="375" width="2" height="1" fill="#fff"/>
<rect x="24" y="377" width="6" height="4" fill="#fff"/>
<rect x="220" y="377" width="6" height="4" fill="#fff"/>
<rect x="24" y="376" width="1" height="1" fill="#fff"/>
<rect x="225" y="376" width="1" height="1" fill="#fff"/>
<rect x="29" y="376" width="1" height="1" fill="#fff"/>
<rect x="220" y="376" width="1" height="1" fill="#fff"/>
<rect x="28" y="372" width="193" height="1" fill="#fff"/>
<rect x="23" y="382" width="204" height="1" fill="#fff"/>
<rect x="31" y="372" width="1" height="10" fill="#fff"/>
<rect x="32" y="372" width="1" height="4" fill="#fff"/>
<rect x="217" y="372" width="2" height="10" fill="#fff"/>
<rect x="121" y="372" width="7" height="9" fill="#fff"/>
<rect x="39" y="378" width="1" height="3" fill="#fff"/>
<rect x="41" y="378" width="1" height="3" fill="#fff"/>
<rect x="43" y="378" width="1" height="3" fill="#fff"/>
<rect x="45" y="378" width="1" height="3" fill="#fff"/>
<rect x="56" y="378" width="1" height="3" fill="#fff"/>
<rect x="58" y="378" width="1" height="3" fill="#fff"/>
<rect x="60" y="378" width="1" height="3" fill="#fff"/>
<rect x="62" y="378" width="1" height="3" fill="#fff"/>
<rect x="64" y="378" width="1" height="3" fill="#fff"/>
<rect x="71" y="378" width="1" height="3" fill="#fff"/>
<rect x="73" y="378" width="1" height="3" fill="#fff"/>
<rect x="75" y="378" width="1" height="3" fill="#fff"/>
<rect x="77" y="378" width="1" height="3" fill="#fff"/>
<rect x="84" y="378" width="1" height="3" fill="#fff"/>
<rect x="86" y="378" width="1" height="3" fill="#fff"/>
<rect x="88" y="378" width="1" height="3" fill="#fff"/>
<rect x="90" y="378" width="1" height="3" fill="#fff"/>
<rect x="92" y="378" width="1" height="3" fill="#fff"/>
<rect x="94" y="378" width="1" height="3" fill="#fff"/>
<rect x="99" y="378" width="1" height="3" fill="#fff"/>
<rect x="101" y="378" width="1" height="3" fill="#fff"/>
<rect x="103" y="378" width="1" height="3" fill="#fff"/>
<rect x="105" y="378" width="1" height="3" fill="#fff"/>
<rect x="107" y="378" width="1" height="3" fill="#fff"/>
<rect x="109" y="378" width="1" height="3" fill="#fff"/>
<rect x="114" y="378" width="1" height="3" fill="#fff"/>
<rect x="116" y="378" width="1" height="3" fill="#fff"/>
<rect x="118" y="378" width="1" height="3" fill="#fff"/>
<rect x="136" y="378" width="1" height="3" fill="#fff"/>
<rect x="138" y="378" width="1" height="3" fill="#fff"/>
<rect x="140" y="378" width="1" height="3" fill="#fff"/>
<rect x="142" y="378" width="1" height="3" fill="#fff"/>
<rect x="153" y="378" width="1" height="3" fill="#fff"/>
<rect x="155" y="378" width="1" height="3" fill="#fff"/>
<rect x="157" y="378" width="1" height="3" fill="#fff"/>
<rect x="159" y="378" width="1" height="3" fill="#fff"/>
<rect x="161" y="378" width="1" height="3" fill="#fff"/>
<rect x="167" y="378" width="1" height="3" fill="#fff"/>
<rect x="169" y="378" width="1" height="3" fill="#fff"/>
<rect x="171" y="378" width="1" height="3" fill="#fff"/>
<rect x="173" y="378" width="1" height="3" fill="#fff"/>
<rect x="184" y="378" width="1" height="3" fill="#fff"/>
<rect x="186" y="378" width="1" height="3" fill="#fff"/>
<rect x="188" y="378" width="1" height="3" fill="#fff"/>
<rect x="190" y="378" width="1" height="3" fill="#fff"/>
<rect x="196" y="378" width="1" height="3" fill="#fff"/>
<rect x="198" y="378" width="1" height="3" fill="#fff"/>
<rect x="200" y="378" width="1" height="3" fill="#fff"/>
<rect x="202" y="378" width="1" height="3" fill="#fff"/>
<rect x="204" y="378" width="1" height="3" fill="#fff"/>
<rect x="210" y="378" width="1" height="3" fill="#fff"/>
<rect x="212" y="378" width="1" height="3" fill="#fff"/>
<rect x="214" y="378" width="1" height="3" fill="#fff"/>
<rect x="14" y="392" width="222" height="13" fill="#000"/>
<rect x="15" y="393" width="5" height="4" fill="#fff"/>
<rect x="230" y="393" width="5" height="4" fill="#fff"/>
<rect x="15" y="398" width="5" height="3" fill="#fff"/>
<rect x="230" y="398" width="5" height="3" fill="#fff"/>
<rect x="15" y="402" width="5" height="2" fill="#fff"/>
<rect x="230" y="402" width="5" height="2" fill="#fff"/>
<rect x="23" y="394" width="5" height="2" fill="#fff"/>
<rect x="222" y="394" width="5" height="2" fill="#fff"/>
<rect x="26" y="396" width="2" height="1" fill="#fff"/>
<rect x="222" y="396" width="2" height="1" fill="#fff"/>
<rect x="24" y="398" width="6" height="4" fill="#fff"/>
<rect x="220" y="398" width="6" height="4" fill="#fff"/>
<rect x="24" y="397" width="1" height="1" fill="#fff"/>
<rect x="225" y="397" width="1" height="1" fill="#fff"/>
<rect x="29" y="397" width="1" height="1" fill="#fff"/>
<rect x="220" y="397" width="1" height="1" fill="#fff"/>
<rect x="28" y="393" width="193" height="1" fill="#fff"/>
<rect x="23" y="403" width="204" height="1" fill="#fff"/>
<rect x="31" y="393" width="1" height="10" fill="#fff"/>
<rect x="32" y="393" width="1" height="4" fill="#fff"/>
<rect x="217" y="393" width="2" height="10" fill="#fff"/>
<rect x="121" y="397" width="7" height="7" fill="#fff"/>
<rect x="39" y="399" width="1" height="3" fill="#fff"/>
<rect x="41" y="399" width="1" height="3" fill="#fff"/>
<rect x="43" y="399" width="1" height="3" fill="#fff"/>
<rect x="45" y="399" width="1" height="3" fill="#fff"/>
<rect x="56" y="399" width="1" height="3" fill="#fff"/>
<rect x="58" y="399" width="1" height="3" fill="#fff"/>
<rect x="60" y="399" width="1" height="3" fill="#fff"/>
<rect x="62" y="399" width="1" height="3" fill="#fff"/>
<rect x="64" y="399" width="1" height="3" fill="#fff"/>
<rect x="71" y="399" width="1" height="3" fill="#fff"/>
<rect x="73" y="399" width="1" height="3" fill="#fff"/>
<rect x="75" y="399" width="1" height="3" fill="#fff"/>
<rect x="77" y="399" width="1" height="3" fill="#fff"/>
<rect x="84" y="399" width="1" height="3" fill="#fff"/>
<rect x="86" y="399" width="1" height="3" fill="#fff"/>
<rect x="88" y="399" width="1" height="3" fill="#fff"/>
<rect x="90" y="399" width="1" height="3" fill="#fff"/>
<rect x="92" y="399" width="1" height="3" fill="#fff"/>
<rect x="94" y="399" width="1" height="3" fill="#fff"/>
<rect x="99" y="399" width="1" height="3" fill="#fff"/>
<rect x="101" y="399" width="1" height="3" fill="#fff"/>
<rect x="103" y="399" width="1" height="3" fill="#fff"/>
<rect x="105" y="399" width="1" height="3" fill="#fff"/>
<rect x="107" y="399" width="1" height="3" fill="#fff"/>
<rect x="109" y="399" width="1" height="3" fill="#fff"/>
<rect x="114" y="399" width="1" height="3" fill="#fff"/>
<rect x="116" y="399" width="1" height="3" fill="#fff"/>
<rect x="118" y="399" width="1" height="3" fill="#fff"/>
<rect x="136" y="399" width="1" height="3" fill="#fff"/>
<rect x="138" y="399" width="1" height="3" fill="#fff"/>
<rect x="140" y="399" width="1" height="3" fill="#fff"/>
<rect x="142" y="399" width="1" height="3" fill="#fff"/>
<rect x="153" y="399" width="1" height="3" fill="#fff"/>
<rect x="155" y="399" width="1" height="3" fill="#fff"/>
<rect x="157" y="399" width="1" height="3" fill="#fff"/>
<rect x="159" y="399" width="1" height="3" fill="#fff"/>
<rect x="161" y="399" width="1" height="3" fill="#fff"/>
<rect x="167" y="399" width="1" height="3" fill="#fff"/>
<rect x="169" y="399" width="1" height="3" fill="#fff"/>
<rect x="171" y="399" width="1" height="3" fill="#fff"/>
<rect x="173" y="399" width="1" height="3" fill="#fff"/>
<rect x="184" y="399" width="1" height="3" fill="#fff"/>
<rect x="186" y="399" width="1" height="3" fill="#fff"/>
<rect x="188" y="399" width="1" height="3" fill="#fff"/>
<rect x="190" y="399" width="1" height="3" fill="#fff"/>
<rect x="196" y="399" width="1" height="3" fill="#fff"/>
<rect x="198" y="399" width="1" height="3" fill="#fff"/>
<rect x="200" y="399" width="1" height="3" fill="#fff"/>
<rect x="202" y="399" width="1" height="3" fill="#fff"/>
<rect x="204" y="399" width="1" height="3" fill="#fff"/>
<rect x="210" y="399" width="1" height="3" fill="#fff"/>
<rect x="212" y="399" width="1" height="3" fill="#fff"/>
<rect x="214" y="399" width="1" height="3" fill="#fff"/>
<rect x="101" y="338" width="48" height="12" fill="#000"/>
<rect x="103" y="338" width="44" height="12" fill="#fff"/>
<text x="124.42" y="347.5" font-size="10" fill="#000" stroke="#000" stroke-width="0.08" text-anchor="middle" letter-spacing="0.84">BANK 1</text>
<rect x="101" y="383" width="48" height="12" fill="#000"/>
<rect x="103" y="383" width="44" height="12" fill="#fff"/>
<text x="124.89" y="392.5" font-size="10" fill="#000" stroke="#000" stroke-width="0.08" text-anchor="middle" letter-spacing="0.98">BANK 0</text>
</svg>
</body></html>
